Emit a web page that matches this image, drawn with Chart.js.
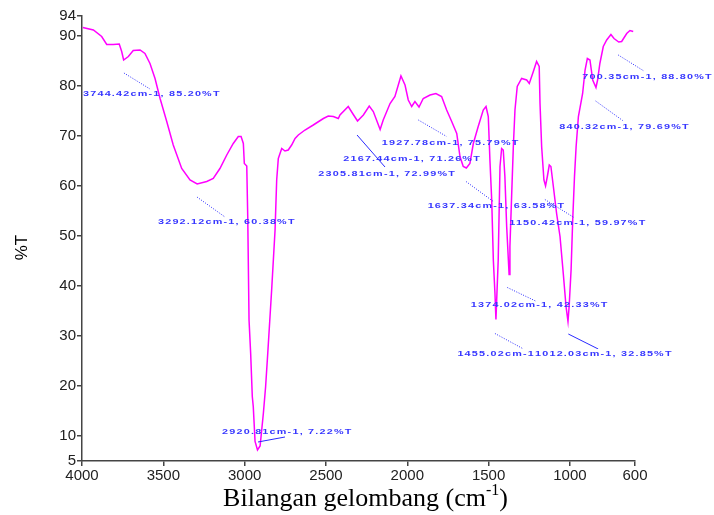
<!DOCTYPE html>
<html>
<head>
<meta charset="utf-8">
<script src="https://cdn.jsdelivr.net/npm/chart.js@4.4.1/dist/chart.umd.min.js"></script>
<style>
  html, body { margin: 0; padding: 0; background: #fff; }
  #wrap { width: 714px; height: 515px; }
</style>
</head>
<body>
<div id="wrap"><canvas id="ftir"></canvas></div>
<script>
// FTIR spectrum
const wavenumbers = [
  3995, 3930, 3879, 3848, 3808, 3771, 3756, 3744, 3715, 3685, 3643, 3613, 3582, 3551, 3520,
  3479, 3439, 3387, 3336, 3292, 3233, 3193, 3152, 3110, 3070, 3039, 3022, 3008, 3002, 2987,
  2981, 2973, 2963, 2953, 2947, 2936, 2921, 2905, 2885, 2871, 2858, 2844, 2834, 2813, 2803,
  2793, 2772, 2752, 2732, 2711, 2690, 2670, 2629, 2578, 2516, 2486, 2455, 2424, 2414, 2363,
  2336, 2306, 2270, 2234, 2209, 2167, 2148, 2106, 2076, 2039, 2014, 1994, 1973, 1953, 1928,
  1902, 1860, 1824, 1789, 1758, 1727, 1696, 1676, 1656, 1637, 1615, 1594, 1564, 1533, 1516,
  1502, 1492, 1481, 1471, 1461, 1455, 1441, 1430, 1420, 1410, 1400, 1389, 1374, 1369, 1358,
  1348, 1338, 1324, 1297, 1266, 1250, 1225, 1205, 1189, 1184, 1174, 1160, 1150, 1139, 1127,
  1117, 1102, 1082, 1061, 1041, 1024, 1012, 1005, 993, 983, 972, 962, 948, 922, 907,
  893, 877, 860, 840, 830, 816, 795, 774, 748, 729, 700, 682, 651, 631, 611
];
const transmittance = [
  91.7, 91.2, 89.9, 88.3, 88.3, 88.4, 86.9, 85.2, 85.9, 87.1, 87.2, 86.5, 84.5, 81.5, 77.5,
  72.9, 68.2, 63.5, 61.2, 60.4, 60.9, 61.5, 63.5, 66.2, 68.5, 69.9, 69.9, 68.5, 64.5, 64.0,
  53.9, 33.2, 26.5, 17.9, 15.9, 8.9, 7.2, 8.0, 14.5, 19.9, 26.5, 33.9, 39.2, 51.2, 61.2,
  65.5, 67.5, 67.0, 67.2, 68.2, 69.5, 70.2, 71.2, 72.2, 73.5, 74.0, 73.9, 73.5, 74.2, 75.9,
  74.5, 73.0, 74.2, 76.0, 74.9, 71.3, 73.2, 76.5, 77.9, 82.0, 80.2, 77.2, 75.9, 76.9, 75.8,
  77.5, 78.2, 78.5, 77.9, 75.2, 72.9, 70.5, 65.9, 63.9, 63.6, 64.5, 68.5, 71.9, 75.2, 75.9,
  73.9, 65.2, 57.2, 45.2, 38.5, 33.3, 45.2, 63.9, 67.5, 67.2, 61.9, 51.9, 42.3, 47.9, 58.5,
  67.9, 75.2, 79.9, 81.5, 81.2, 80.5, 82.9, 84.9, 83.9, 76.5, 67.9, 61.2, 60.0, 61.9, 64.2,
  63.9, 59.9, 54.5, 49.9, 42.5, 35.9, 32.9, 35.9, 43.2, 53.2, 61.9, 67.9, 73.9, 78.5, 83.2,
  85.5, 85.2, 81.2, 79.7, 81.2, 84.5, 87.9, 89.2, 90.3, 89.5, 88.8, 88.9, 90.5, 91.1, 90.9
];

const xTicks = [4000, 3500, 3000, 2500, 2000, 1500, 1000, 600];
const yTicks = [5, 10, 20, 30, 40, 50, 60, 70, 80, 90, 94];

// peak labels: text, text anchor [cm-1, %T], leader line from/to, solid leader?
const peakLabels = [
  ['3744.42cm-1, 85.20%T', [3994, 78.5], [3742, 82.6], [3582, 79.4], false],
  ['3292.12cm-1, 60.38%T', [3533, 52.9], [3293, 57.8], [3121, 53.8], false],
  ['2920.81cm-1, 7.22%T',  [3139, 10.9], [2918, 8.8],  [2752, 9.8],  true],
  ['2167.44cm-1, 71.26%T', [2394, 65.4], null, null, false],
  ['2305.81cm-1, 72.99%T', [2547, 62.5], [2309, 70.2], [2137, 63.8], true],
  ['1927.78cm-1, 75.79%T', [2157, 68.7], [1932, 73.2], [1758, 69.9], false],
  ['1637.34cm-1, 63.58%T', [1875, 56.0], [1639, 60.9], [1471, 56.9], false],
  ['1150.42cm-1, 59.97%T', [1373, 52.7], [1154, 57.3], [975, 53.7],  false],
  ['840.32cm-1, 79.69%T',  [1066, 71.9], [842, 77.0],  [676, 73.1],  false],
  ['700.35cm-1, 88.80%T',  [924, 81.9],  [703, 86.2],  [545, 83.0],  false],
  ['1374.02cm-1, 42.33%T', [1610, 36.2], [1385, 39.7], [1205, 36.9], false],
  ['1455.02cm-1, 33.34%T', [1692, 26.4], [1461, 30.5], [1291, 27.5], false],
  ['1012.03cm-1, 32.85%T', [1215, 26.4], [1010, 30.4], [826, 27.4],  true]
];

const peakLabelPlugin = {
  id: 'peakLabels',
  afterDatasetsDraw(chart) {
    const ctx = chart.ctx;
    const xs = chart.scales.x, ys = chart.scales.y;
    const stretch = 1.35;
    ctx.save();
    peakLabels.forEach(([txt, at, from, to, solid]) => {
      if (from) {
        ctx.beginPath();
        ctx.strokeStyle = '#2a2aff';
        ctx.lineWidth = 1;
        ctx.setLineDash(solid ? [] : [1, 1.5]);
        ctx.moveTo(xs.getPixelForValue(from[0]), ys.getPixelForValue(from[1]));
        ctx.lineTo(xs.getPixelForValue(to[0]), ys.getPixelForValue(to[1]));
        ctx.stroke();
      }
      const px = xs.getPixelForValue(at[0]);
      const py = ys.getPixelForValue(at[1]);
      ctx.save();
      ctx.translate(px, py);
      ctx.scale(stretch, 1);
      ctx.font = 'bold 8px "Liberation Sans", Arial, sans-serif';
      ctx.letterSpacing = '0.9px';
      ctx.textBaseline = 'middle';
      ctx.textAlign = 'left';
      if (txt.startsWith('1012')) {
        // this one sits over the 1455 label in the original
        const w = ctx.measureText(txt).width;
        ctx.fillStyle = '#fff';
        ctx.fillRect(-1, -5, w + 2, 10);
      }
      ctx.fillStyle = '#3636ff';
      ctx.fillText(txt, 0, 0);
      ctx.restore();
    });
    ctx.restore();
  }
};

// x title with superscript, y title
const titlesPlugin = {
  id: 'titles',
  afterDraw(chart) {
    const ctx = chart.ctx;
    const area = chart.chartArea;
    ctx.save();
    ctx.fillStyle = '#000';
    ctx.textBaseline = 'alphabetic';
    const big = '26px "Liberation Serif", "Times New Roman", serif';
    const small = '16px "Liberation Serif", "Times New Roman", serif';
    const a = 'Bilangan gelombang (cm', b = '-1', c = ')';
    ctx.font = big; const wa = ctx.measureText(a).width, wc = ctx.measureText(c).width;
    ctx.font = small; const wb = ctx.measureText(b).width;
    let x = (area.left + area.right) / 2 + 7 - (wa + wb + wc) / 2;
    const base = 506;
    ctx.font = big; ctx.fillText(a, x, base); x += wa;
    ctx.font = small; ctx.fillText(b, x, base - 11); x += wb;
    ctx.font = big; ctx.fillText(c, x, base);

    ctx.translate(22, (area.top + area.bottom) / 2 + 9);
    ctx.rotate(-Math.PI / 2);
    ctx.textAlign = 'center';
    ctx.textBaseline = 'middle';
    ctx.font = '17px "Liberation Sans", Arial, sans-serif';
    ctx.fillText('%T', 0, 0);
    ctx.restore();
  }
};

const tickFont = { family: '"Liberation Sans", Arial, sans-serif', size: 15 };

new Chart(document.getElementById('ftir'), {
  type: 'line',
  data: {
    datasets: [{
      data: wavenumbers.map((w, i) => ({ x: w, y: transmittance[i] })),
      borderColor: '#ff00ff',
      borderWidth: 1.5,
      pointRadius: 0,
      fill: false,
      tension: 0
    }]
  },
  options: {
    responsive: true,
    maintainAspectRatio: false,
    animation: false,
    layout: { padding: { left: 0, right: 79, top: 16, bottom: 0 } },
    plugins: { legend: { display: false }, tooltip: { enabled: false } },
    scales: {
      x: {
        type: 'linear',
        reverse: true,
        min: 600,
        max: 4000,
        afterBuildTicks: s => { s.ticks = xTicks.map(v => ({ value: v })); },
        afterFit: s => { s.height = 54; },
        ticks: { color: '#222', font: tickFont, padding: 1, maxRotation: 0, autoSkip: false,
                 callback: v => String(v) },
        grid: { drawOnChartArea: false, drawTicks: true, tickLength: 5, color: '#444', lineWidth: 1.5 },
        border: { display: true, color: '#444', width: 1.5 }
      },
      y: {
        type: 'linear',
        min: 5,
        max: 94,
        afterBuildTicks: s => { s.ticks = yTicks.map(v => ({ value: v })); },
        afterFit: s => { s.width = 82; },
        ticks: { color: '#222', font: tickFont, padding: 1, autoSkip: false,
                 callback: v => String(v) },
        grid: { drawOnChartArea: false, drawTicks: true, tickLength: 5, color: '#444', lineWidth: 1.5 },
        border: { display: true, color: '#444', width: 1.5 }
      }
    }
  },
  plugins: [peakLabelPlugin, titlesPlugin]
});
</script>
</body>
</html>
